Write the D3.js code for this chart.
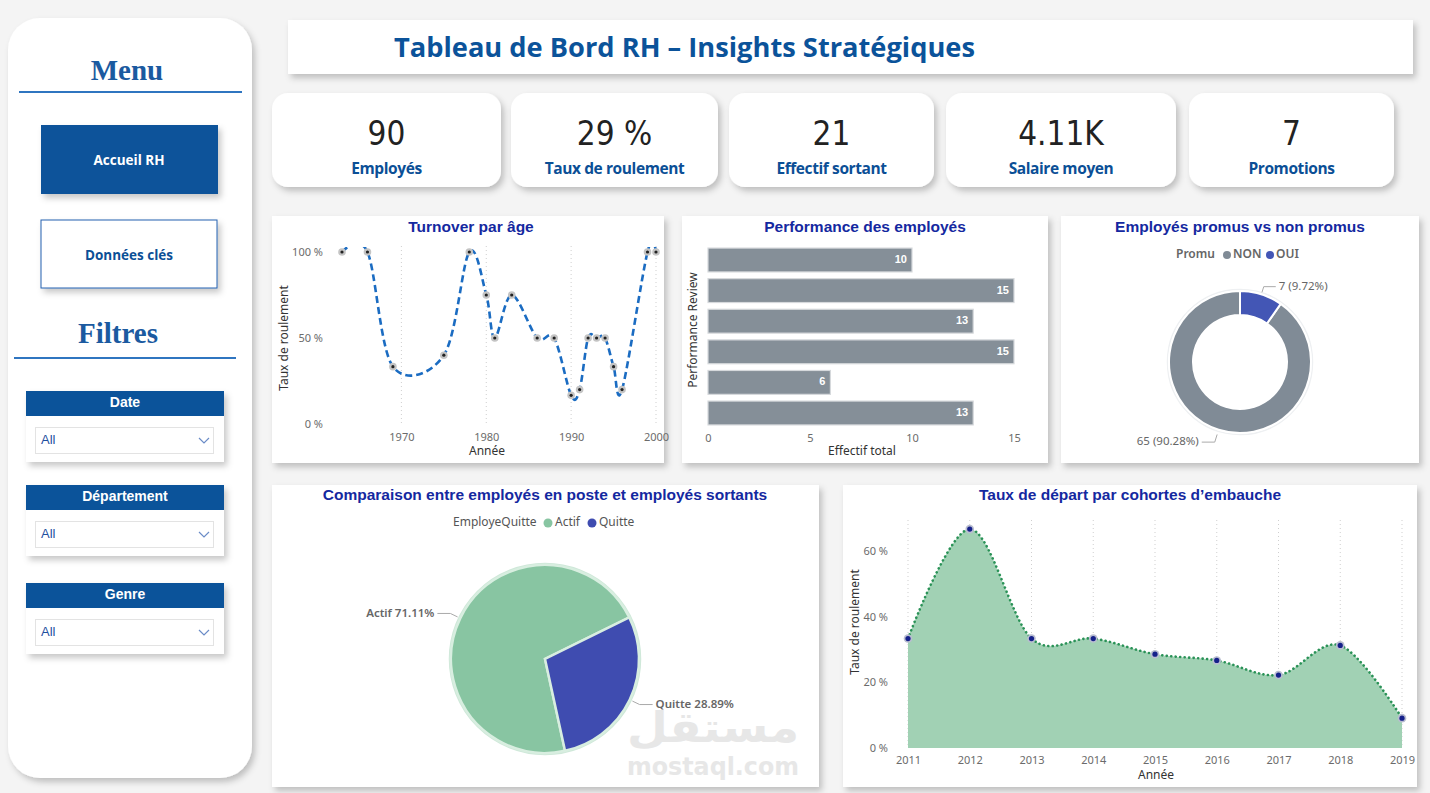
<!DOCTYPE html>
<html><head><meta charset="utf-8">
<script src="https://cdn.jsdelivr.net/npm/d3@7"></script>
<style>body{margin:0;background:#f4f4f4;} svg{display:block;}</style>
</head><body><svg id="c" width="1430" height="793"></svg>
<script>
// ---------------- DATA ----------------
const dashTitle = "Tableau de Bord RH – Insights Stratégiques";
const kpiValues = ["90", "29 %", "21", "4.11K", "7"];
const kpiLabels = ["Employés", "Taux de roulement", "Effectif sortant", "Salaire moyen", "Promotions"];
const menuButtons = ["Accueil RH", "Données clés"];
const filterNames = ["Date", "Département", "Genre"];

const turnoverYears = [1963, 1966, 1969, 1975, 1978, 1980, 1981, 1983, 1986, 1988, 1990, 1991, 1992, 1993, 1994, 1995, 1996, 1999, 2000];
const turnoverRates = [1, 1, 0.3333, 0.4, 1, 0.75, 0.5, 0.75, 0.5, 0.5, 0.1667, 0.2, 0.5, 0.5, 0.5, 0.3333, 0.2, 1, 1];
const turnoverXTicks = [1970, 1980, 1990, 2000];
const turnoverYTicks = [0, 0.5, 1];

const perfCategories = ["A", "B", "C", "D", "E", "F"];
const perfValues = [10, 15, 13, 15, 6, 13];
const perfXTicks = [0, 5, 10, 15];

const promuLabels = ["NON", "OUI"];
const promuValues = [65, 7];

const quitLabels = ["Actif", "Quitte"];
const quitValues = [64, 26];

const cohortYears = [2011, 2012, 2013, 2014, 2015, 2016, 2017, 2018, 2019];
const cohortRates = [0.3333, 0.6667, 0.3333, 0.3333, 0.2857, 0.2667, 0.2222, 0.3125, 0.0909];
const cohortYTicks = [0, 0.2, 0.4, 0.6];

// ---------------- SETUP ----------------
const svg = d3.select("#c");
const BLUE = "#0b539a", TITLE = "#1428a0", TICK = "#6b6b6b", AX = "#333";
const F = "'Noto Sans', 'Open Sans', sans-serif";
const defs = svg.append("defs");
const sh = defs.append("filter").attr("id", "sh").attr("x", "-10%").attr("y", "-10%").attr("width", "125%").attr("height", "130%");
sh.append("feDropShadow").attr("dx", 3).attr("dy", 4).attr("stdDeviation", 3).attr("flood-color", "#000").attr("flood-opacity", 0.22);

function card(x, y, w, h, r) {
  return svg.append("rect").attr("x", x).attr("y", y).attr("width", w).attr("height", h)
    .attr("rx", r || 0).attr("fill", "#fff").attr("filter", "url(#sh)");
}
function txt(g, x, y, s, o) {
  o = o || {};
  return g.append("text").attr("x", x).attr("y", y).text(s)
    .attr("font-family", o.ff || F).attr("font-size", o.fs || 12).attr("font-weight", o.fw || 400)
    .attr("fill", o.fill || "#333").attr("text-anchor", o.anchor || "start")
    .attr("dominant-baseline", o.db || "auto");
}
const pct = d => Math.round(d * 100) + " %";

// ---------------- SIDEBAR ----------------
card(8, 18, 244, 760, 32);
txt(svg, 127, 80, "Menu", {ff: "'Liberation Serif', serif", fs: 29, fw: 700, fill: "#1b5aa0", anchor: "middle"});
svg.append("line").attr("x1", 19).attr("x2", 242).attr("y1", 92).attr("y2", 92).attr("stroke", "#2f75c0").attr("stroke-width", 2);
svg.append("rect").attr("x", 41).attr("y", 125).attr("width", 177).attr("height", 69).attr("fill", BLUE).attr("filter", "url(#sh)");
txt(svg, 129, 161, menuButtons[0], {ff: "'Open Sans', sans-serif", fs: 13.5, fw: 700, fill: "#fff", anchor: "middle", db: "middle"});
svg.append("rect").attr("x", 41).attr("y", 220).attr("width", 176).attr("height", 68).attr("fill", "#fff").attr("stroke", "#2460b0").attr("stroke-width", 1).attr("filter", "url(#sh)");
txt(svg, 129, 256, menuButtons[1], {ff: "'Open Sans', sans-serif", fs: 13.5, fw: 700, fill: "#0b4f96", anchor: "middle", db: "middle"});
txt(svg, 118, 343, "Filtres", {ff: "'Liberation Serif', serif", fs: 29, fw: 700, fill: "#1b5aa0", anchor: "middle"});
svg.append("line").attr("x1", 14).attr("x2", 236).attr("y1", 358).attr("y2", 358).attr("stroke", "#2f75c0").attr("stroke-width", 2);

const filterTops = [391, 485, 583];
filterNames.forEach((n, i) => {
  const y = filterTops[i];
  svg.append("rect").attr("x", 26).attr("y", y).attr("width", 198).attr("height", 71).attr("fill", "#fff").attr("filter", "url(#sh)");
  svg.append("rect").attr("x", 26).attr("y", y).attr("width", 198).attr("height", 25).attr("fill", BLUE);
  txt(svg, 125, y + 12.5, n, {ff: "'Liberation Sans', Arial, sans-serif", fs: 14, fw: 700, fill: "#fff", anchor: "middle", db: "middle"});
  svg.append("rect").attr("x", 35.5).attr("y", y + 36.5).attr("width", 178).attr("height", 26).attr("fill", "#fff").attr("stroke", "#e3e3e3");
  txt(svg, 41, y + 50, "All", {ff: "'Liberation Sans', Arial, sans-serif", fs: 13, fill: "#1f4fa0", db: "middle"});
  svg.append("path").attr("d", `M199,${y + 47} L204,${y + 52} L209,${y + 47}`).attr("fill", "none").attr("stroke", "#6b8cc7").attr("stroke-width", 1.2);
});

// ---------------- TITLE + KPI ----------------
svg.append("rect").attr("x", 288).attr("y", 20).attr("width", 1125).attr("height", 54).attr("fill", "#fff").attr("filter", "url(#sh)");
txt(svg, 394, 57, dashTitle, {ff: "'Open Sans', sans-serif", fs: 26, fw: 700, fill: BLUE})
  .attr("textLength", 581).attr("lengthAdjust", "spacingAndGlyphs");

const kpiX = [272, 511, 729, 946, 1189], kpiW = [229, 207, 205, 230, 205];
kpiValues.forEach((v, i) => {
  card(kpiX[i], 93, kpiW[i], 94, 16);
  const cx = kpiX[i] + kpiW[i] / 2;
  txt(svg, cx, 145, v, {ff: "'Liberation Sans Narrow', 'DejaVu Sans Condensed', Roboto, sans-serif", fs: 33, fill: "#222", anchor: "middle"});
  txt(svg, cx, 174, kpiLabels[i], {ff: "'Open Sans', sans-serif", fs: 15.5, fw: 700, fill: "#0b4f96", anchor: "middle"})
    .attr("letter-spacing", -0.4);
});

// ---------------- TURNOVER PAR AGE ----------------
card(272, 216, 392, 247);
txt(svg, 471, 228, "Turnover par âge", {ff: "'Liberation Sans', Arial, sans-serif", fs: 15.5, fw: 700, fill: TITLE, anchor: "middle", db: "middle"});
const tx = d3.scaleLinear().domain([1963, 2000]).range([342, 656]);
const ty = d3.scaleLinear().domain([0, 1]).range([424, 252]);
const tg = svg.append("g");
turnoverXTicks.forEach(t => {
  tg.append("line").attr("x1", tx(t)).attr("x2", tx(t)).attr("y1", 246).attr("y2", 424).attr("stroke", "#cfcfcf").attr("stroke-dasharray", "1,3");
});
const txAxis = tg.append("g").attr("transform", "translate(0,428)").call(d3.axisBottom(tx).tickValues(turnoverXTicks).tickFormat(d3.format("d")).tickSize(0));
txAxis.select(".domain").remove();
txAxis.selectAll("text").attr("font-family", F).attr("font-size", 11).attr("fill", TICK).attr("dy", "0.9em");
const tyAxis = tg.append("g").attr("transform", "translate(326,0)").call(d3.axisLeft(ty).tickValues(turnoverYTicks).tickFormat(pct).tickSize(0));
tyAxis.select(".domain").remove();
tyAxis.selectAll("text").attr("font-family", F).attr("font-size", 11).attr("fill", TICK);
txt(tg, 487, 455, "Année", {fs: 12, fill: AX, anchor: "middle"});
txt(tg, 0, 0, "Taux de roulement", {fs: 12, fill: AX, anchor: "middle"}).attr("transform", "translate(288,338) rotate(-90)");
defs.append("clipPath").attr("id", "tclip").append("rect").attr("x", 330).attr("y", 247).attr("width", 335).attr("height", 190);
const tdata = turnoverYears.map((y, i) => [y, turnoverRates[i]]);
tg.append("path").datum(tdata).attr("clip-path", "url(#tclip)")
  .attr("d", d3.line().x(d => tx(d[0])).y(d => ty(d[1])).curve(d3.curveCardinal.tension(0)))
  .attr("fill", "none").attr("stroke", "#1b6cc2").attr("stroke-width", 2.6).attr("stroke-dasharray", "7,4");
tg.selectAll(".tm").data(tdata).enter().append("circle").attr("cx", d => tx(d[0])).attr("cy", d => ty(d[1])).attr("r", 3.8).attr("fill", "#c4c4c4");
tg.selectAll(".tm2").data(tdata).enter().append("circle").attr("cx", d => tx(d[0])).attr("cy", d => ty(d[1])).attr("r", 1.6).attr("fill", "#222");

// ---------------- PERFORMANCE ----------------
card(682, 216, 366, 247);
txt(svg, 865, 228, "Performance des employés", {ff: "'Liberation Sans', Arial, sans-serif", fs: 15.5, fw: 700, fill: TITLE, anchor: "middle", db: "middle"});
const px = d3.scaleLinear().domain([0, 15]).range([708, 1014]);
const py = d3.scaleBand().domain(perfCategories).range([245, 428]).paddingInner(0.22).paddingOuter(0.1);
const pg = svg.append("g");
pg.selectAll("rect").data(perfValues).enter().append("rect")
  .attr("x", px(0)).attr("y", (d, i) => py(perfCategories[i])).attr("width", d => px(d) - px(0)).attr("height", py.bandwidth())
  .attr("fill", "#858f98").attr("stroke", "#d6d9dc").attr("stroke-width", 1.2);
pg.selectAll(".bl").data(perfValues).enter().append("text")
  .attr("x", d => px(d) - 5).attr("y", (d, i) => py(perfCategories[i]) + py.bandwidth() / 2).text(d => d)
  .attr("font-family", "'Liberation Sans', Arial, sans-serif").attr("font-size", 11).attr("font-weight", 700)
  .attr("fill", "#fff").attr("text-anchor", "end").attr("dominant-baseline", "middle");
const pxAxis = pg.append("g").attr("transform", "translate(0,429)").call(d3.axisBottom(px).tickValues(perfXTicks).tickSize(0));
pxAxis.select(".domain").remove();
pxAxis.selectAll("text").attr("font-family", F).attr("font-size", 11).attr("fill", TICK).attr("dy", "0.9em");
txt(pg, 862, 455, "Effectif total", {fs: 12, fill: AX, anchor: "middle"});
txt(pg, 0, 0, "Performance Review", {fs: 12, fill: AX, anchor: "middle"}).attr("transform", "translate(697,330) rotate(-90)");

// ---------------- PROMUS DONUT ----------------
card(1061, 216, 358, 247);
txt(svg, 1240, 228, "Employés promus vs non promus", {ff: "'Liberation Sans', Arial, sans-serif", fs: 15.5, fw: 700, fill: TITLE, anchor: "middle", db: "middle"});
const promuColors = ["#808b96", "#4356b5"];
const dg = svg.append("g");
txt(dg, 1176, 255, "Promu", {fs: 12, fw: 600, fill: "#666", db: "middle"});
dg.append("circle").attr("cx", 1227).attr("cy", 255).attr("r", 4).attr("fill", promuColors[0]);
txt(dg, 1233, 255, promuLabels[0], {fs: 12, fw: 600, fill: "#666", db: "middle"});
dg.append("circle").attr("cx", 1270).attr("cy", 255).attr("r", 4).attr("fill", promuColors[1]);
txt(dg, 1276, 255, promuLabels[1], {fs: 12, fw: 600, fill: "#666", db: "middle"});
const dc = [1240, 362];
const ptot = d3.sum(promuValues);
const dpie = d3.pie().sort(null).startAngle(2 * Math.PI * promuValues[1] / ptot).endAngle(2 * Math.PI * (1 + promuValues[1] / ptot));
const darcs = dpie(promuValues);
const darc = d3.arc().innerRadius(47).outerRadius(71);
const dgc = dg.append("g").attr("transform", `translate(${dc[0]},${dc[1]})`);
dgc.append("circle").attr("r", 72.5).attr("fill", "none").attr("stroke", "#eef0f2").attr("stroke-width", 1.5);
dgc.selectAll("path").data(darcs).enter().append("path").attr("d", darc).attr("fill", (d, i) => promuColors[i]).attr("stroke", "#fff").attr("stroke-width", 2);
const dlab = [{r1: 76, r2: 84, dx: -13}, {r1: 73, r2: 79, dx: 12}];
darcs.forEach((a, i) => {
  const m = (a.startAngle + a.endAngle) / 2;
  const p1 = [Math.sin(m) * dlab[i].r1, -Math.cos(m) * dlab[i].r1];
  const p2 = [Math.sin(m) * dlab[i].r2, -Math.cos(m) * dlab[i].r2];
  const p3 = [p2[0] + dlab[i].dx, p2[1]];
  dgc.append("polyline").attr("points", [p1, p2, p3].map(p => p.join(",")).join(" ")).attr("fill", "none").attr("stroke", "#aaa");
  txt(dgc, p3[0] + (dlab[i].dx < 0 ? -3 : 3), p3[1], `${promuValues[i]} (${d3.format(".2%")(promuValues[i] / ptot)})`,
    {fs: 11.5, fill: "#666", anchor: dlab[i].dx < 0 ? "end" : "start", db: "middle"});
});

// ---------------- PIE ACTIF/QUITTE ----------------
card(272, 485, 547, 302);
txt(svg, 545, 496, "Comparaison entre employés en poste et employés sortants", {ff: "'Liberation Sans', Arial, sans-serif", fs: 15.5, fw: 700, fill: TITLE, anchor: "middle", db: "middle"});
// watermark
txt(svg, 713, 742, "مستقل", {ff: "'DejaVu Sans', sans-serif", fs: 42, fw: 700, fill: "#e7e7e7", anchor: "middle"})
  .attr("textLength", 172).attr("lengthAdjust", "spacingAndGlyphs");
txt(svg, 713, 775, "mostaql.com", {ff: "'DejaVu Sans', sans-serif", fs: 24, fw: 700, fill: "#e7e7e7", anchor: "middle"})
  .attr("textLength", 172).attr("lengthAdjust", "spacingAndGlyphs");
const quitColors = ["#88c5a2", "#3f4cb0"];
const qg = svg.append("g");
txt(qg, 453, 523, "EmployeQuitte", {fs: 12, fill: "#555", db: "middle"});
qg.append("circle").attr("cx", 548).attr("cy", 523).attr("r", 4.5).attr("fill", quitColors[0]);
txt(qg, 555, 523, quitLabels[0], {fs: 12, fill: "#555", db: "middle"});
qg.append("circle").attr("cx", 592).attr("cy", 523).attr("r", 4.5).attr("fill", quitColors[1]);
txt(qg, 599, 523, quitLabels[1], {fs: 12, fill: "#555", db: "middle"});
const pc = [545, 659];
const qtot = d3.sum(quitValues);
const qStart = (63.7 - 360 * quitValues[0] / qtot) * Math.PI / 180;
const qpie = d3.pie().sort(null).startAngle(qStart).endAngle(qStart + 2 * Math.PI);
const qarcs = qpie(quitValues);
const qarc = d3.arc().innerRadius(0).outerRadius(94);
const qgc = qg.append("g").attr("transform", `translate(${pc[0]},${pc[1]})`);
qgc.append("circle").attr("r", 95).attr("fill", "none").attr("stroke", "#cfe8d9").attr("stroke-width", 2.5);
qgc.selectAll("path").data(qarcs).enter().append("path").attr("d", qarc).attr("fill", (d, i) => quitColors[i]).attr("stroke", "#d8eee0").attr("stroke-width", 2.5);
qarcs.forEach((a, i) => {
  const m = (a.startAngle + a.endAngle) / 2;
  const p1 = [Math.sin(m) * 97, -Math.cos(m) * 97];
  const p2 = [Math.sin(m) * 105, -Math.cos(m) * 105];
  const dir = Math.sin(m) < 0 ? -1 : 1;
  const p3 = [p2[0] + dir * 13, p2[1]];
  qgc.append("polyline").attr("points", [p1, p2, p3].map(p => p.join(",")).join(" ")).attr("fill", "none").attr("stroke", "#aaa");
  txt(qgc, p3[0] + dir * 3, p3[1], `${quitLabels[i]} ${d3.format(".2%")(quitValues[i] / qtot)}`,
    {fs: 11.5, fw: 600, fill: "#666", anchor: dir < 0 ? "end" : "start", db: "middle"});
});

// ---------------- COHORT AREA ----------------
card(843, 485, 574, 302);
txt(svg, 1130, 496, "Taux de départ par cohortes d’embauche", {ff: "'Liberation Sans', Arial, sans-serif", fs: 15.5, fw: 700, fill: TITLE, anchor: "middle", db: "middle"});
const ax = d3.scaleLinear().domain([2011, 2019]).range([908, 1402]);
const ay = d3.scaleLinear().domain([0, 0.6]).range([748, 551]);
const ag = svg.append("g");
cohortYears.forEach(t => {
  ag.append("line").attr("x1", ax(t)).attr("x2", ax(t)).attr("y1", 520).attr("y2", 748).attr("stroke", "#cfcfcf").attr("stroke-dasharray", "1,3");
});
const cdata = cohortYears.map((y, i) => [y, cohortRates[i]]);
const curve = d3.curveCardinal.tension(0);
ag.append("path").datum(cdata).attr("d", d3.area().x(d => ax(d[0])).y0(ay(0)).y1(d => ay(d[1])).curve(curve)).attr("fill", "#a1d1b4");
ag.append("path").datum(cdata).attr("d", d3.line().x(d => ax(d[0])).y(d => ay(d[1])).curve(curve))
  .attr("fill", "none").attr("stroke", "#2a9257").attr("stroke-width", 2.6).attr("stroke-dasharray", "0.1,4.4").attr("stroke-linecap", "round");
ag.selectAll(".am").data(cdata).enter().append("circle").attr("cx", d => ax(d[0])).attr("cy", d => ay(d[1])).attr("r", 4.3).attr("fill", "#b9bdd0");
ag.selectAll(".am2").data(cdata).enter().append("circle").attr("cx", d => ax(d[0])).attr("cy", d => ay(d[1])).attr("r", 2.6).attr("fill", "#15208a");
const axAxis = ag.append("g").attr("transform", "translate(0,752)").call(d3.axisBottom(ax).tickValues(cohortYears).tickFormat(d3.format("d")).tickSize(0));
axAxis.select(".domain").remove();
axAxis.selectAll("text").attr("font-family", F).attr("font-size", 11).attr("fill", TICK).attr("dy", "0.8em");
const ayAxis = ag.append("g").attr("transform", "translate(891,0)").call(d3.axisLeft(ay).tickValues(cohortYTicks).tickFormat(pct).tickSize(0));
ayAxis.select(".domain").remove();
ayAxis.selectAll("text").attr("font-family", F).attr("font-size", 11).attr("fill", TICK);
txt(ag, 1156, 779, "Année", {fs: 12, fill: AX, anchor: "middle"});
txt(ag, 0, 0, "Taux de roulement", {fs: 12, fill: AX, anchor: "middle"}).attr("transform", "translate(859,622) rotate(-90)");
</script></body></html>
